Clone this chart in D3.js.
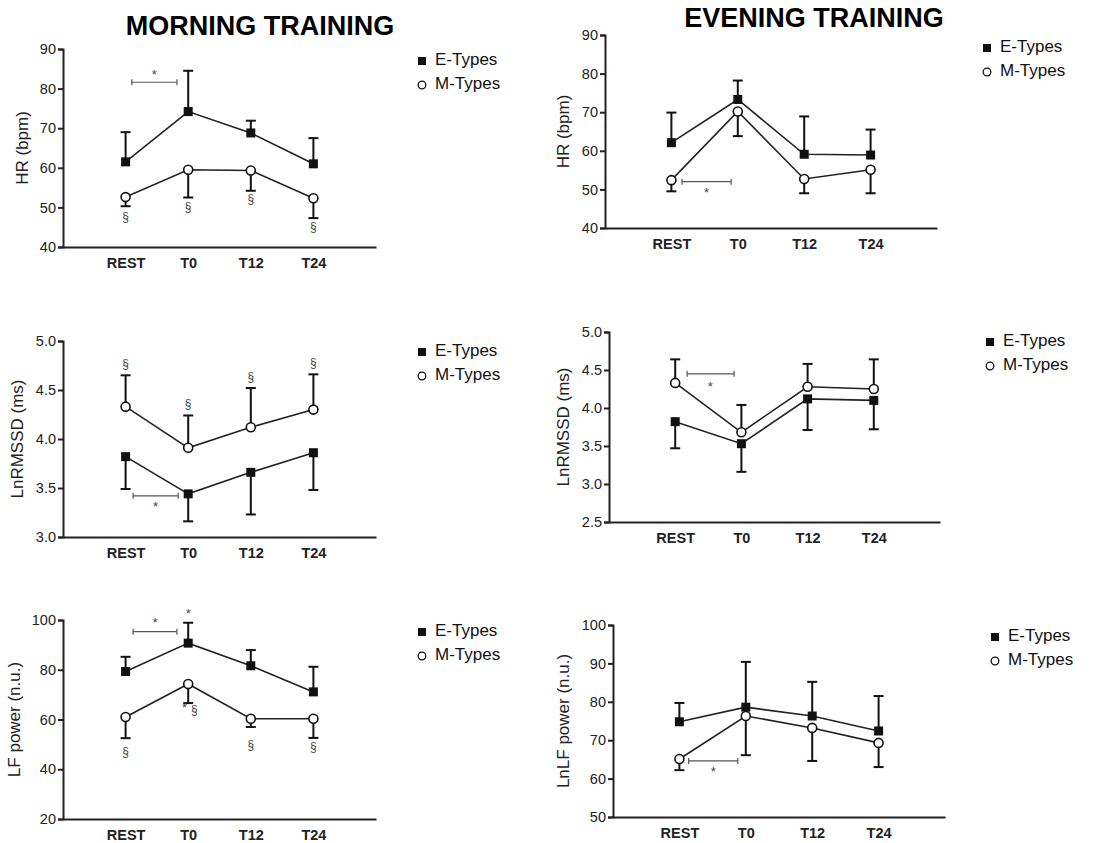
<!DOCTYPE html>
<html>
<head>
<meta charset="utf-8">
<script src="https://cdn.jsdelivr.net/npm/d3@7"></script>
<style>
  body { margin: 0; background: #fff; }
  svg { font-family: "Liberation Sans", Arial, Helvetica, sans-serif; }
  .axis path, .axis line { stroke: #222; stroke-width: 2; }
  .axis text { fill: #222; font-size: 14.5px; }
</style>
</head>
<body>
<script>
// categories and ticks
var categories = ["REST", "T0", "T12", "T24"];
var hrTicks = [40, 50, 60, 70, 80, 90];
var mornRmssdTicks = ["3.0", "3.5", "4.0", "4.5", "5.0"];
var evenRmssdTicks = ["2.5", "3.0", "3.5", "4.0", "4.5", "5.0"];
var mornLfTicks = [20, 40, 60, 80, 100];
var evenLfTicks = [50, 60, 70, 80, 90, 100];

// morning HR
var mornHrE = [61.5, 74.2, 68.8, 61.0];
var mornHrEErr = [69.0, 84.5, 71.9, 67.5];
var mornHrM = [52.6, 59.5, 59.3, 52.3];
var mornHrMErr = [50.3, 52.5, 54.2, 47.3];
// evening HR
var evenHrE = [62.1, 73.3, 59.1, 58.9];
var evenHrEErr = [69.9, 78.2, 68.9, 65.5];
var evenHrM = [52.4, 70.2, 52.7, 55.1];
var evenHrMErr = [49.5, 63.8, 49.0, 49.0];
// morning LnRMSSD
var mornRmE = [3.82, 3.44, 3.66, 3.86];
var mornRmEErr = [3.49, 3.16, 3.23, 3.48];
var mornRmM = [4.33, 3.91, 4.12, 4.30];
var mornRmMErr = [4.65, 4.24, 4.52, 4.66];
// evening LnRMSSD
var evenRmE = [3.82, 3.53, 4.12, 4.10];
var evenRmEErr = [3.47, 3.16, 3.71, 3.72];
var evenRmM = [4.33, 3.68, 4.28, 4.25];
var evenRmMErr = [4.64, 4.04, 4.58, 4.64];
// morning LF power
var mornLfE = [79.3, 90.7, 81.6, 71.1];
var mornLfEErr = [85.2, 98.9, 87.9, 81.2];
var mornLfM = [61.0, 74.3, 60.3, 60.3];
var mornLfMErr = [52.5, 66.6, 57.0, 52.6];
// evening LnLF power
var evenLfE = [74.8, 78.6, 76.3, 72.4];
var evenLfEErr = [79.7, 90.4, 85.2, 81.5];
var evenLfM = [65.1, 76.3, 73.2, 69.3];
var evenLfMErr = [62.2, 66.1, 64.6, 63.0];

// significance marks: [category position, value, text]
var mornHrMarks = [[1, 47.3, "§"], [2, 50.0, "§"], [3, 52.0, "§"], [4, 44.8, "§"], [1.46, 83.2, "*"]];
var evenHrMarks = [[1.53, 48.8, "*"]];
var mornRmMarks = [[1, 4.76, "§"], [2, 4.35, "§"], [3, 4.62, "§"], [4, 4.77, "§"], [1.48, 3.30, "*"]];
var evenRmMarks = [[1.53, 4.27, "*"]];
var mornLfMarks = [[1, 46.5, "§"], [2.1, 63.5, "§"], [1.94, 64.3, "*"], [3, 49.5, "§"], [4, 48.5, "§"], [1.47, 98.5, "*"], [2, 102, "*"]];
var evenLfMarks = [[1.51, 61.5, "*"]];

// brackets: [from, to, value]
var mornHrBracket = [1.10, 1.82, 81.6];
var evenHrBracket = [1.16, 1.90, 52.0];
var mornRmBracket = [1.12, 1.84, 3.42];
var evenRmBracket = [1.18, 1.89, 4.45];
var mornLfBracket = [1.12, 1.82, 95.3];
var evenLfBracket = [1.14, 1.88, 64.6];

var svg = d3.select("body").append("svg")
    .attr("width", 1114)
    .attr("height", 843);

svg.append("text")
    .attr("x", 260).attr("y", 35)
    .attr("text-anchor", "middle")
    .attr("font-size", 27).attr("font-weight", "bold")
    .text("MORNING TRAINING");
svg.append("text")
    .attr("x", 814).attr("y", 27)
    .attr("text-anchor", "middle")
    .attr("font-size", 27).attr("font-weight", "bold")
    .text("EVENING TRAINING");

var panels = [
  {x0: 63, x1: 376, yTop: 49, yBot: 247, dom: [40, 90], ticks: hrTicks, label: "HR (bpm)", labelX: 24,
   e: mornHrE, eErr: mornHrEErr, m: mornHrM, mErr: mornHrMErr, marks: mornHrMarks, bracket: mornHrBracket,
   legX: 422, legY: 61},
  {x0: 605, x1: 937, yTop: 35, yBot: 228, dom: [40, 90], ticks: hrTicks, label: "HR (bpm)", labelX: 565,
   e: evenHrE, eErr: evenHrEErr, m: evenHrM, mErr: evenHrMErr, marks: evenHrMarks, bracket: evenHrBracket,
   legX: 987, legY: 48},
  {x0: 63, x1: 376, yTop: 341, yBot: 537, dom: [3, 5], ticks: mornRmssdTicks, label: "LnRMSSD (ms)", labelX: 19,
   e: mornRmE, eErr: mornRmEErr, m: mornRmM, mErr: mornRmMErr, marks: mornRmMarks, bracket: mornRmBracket,
   legX: 422, legY: 352},
  {x0: 609, x1: 940, yTop: 332, yBot: 522, dom: [2.5, 5], ticks: evenRmssdTicks, label: "LnRMSSD (ms)", labelX: 565,
   e: evenRmE, eErr: evenRmEErr, m: evenRmM, mErr: evenRmMErr, marks: evenRmMarks, bracket: evenRmBracket,
   legX: 990, legY: 342},
  {x0: 63, x1: 376, yTop: 620, yBot: 819, dom: [20, 100], ticks: mornLfTicks, label: "LF power (n.u.)", labelX: 16,
   e: mornLfE, eErr: mornLfEErr, m: mornLfM, mErr: mornLfMErr, marks: mornLfMarks, bracket: mornLfBracket,
   legX: 422, legY: 632},
  {x0: 613, x1: 945, yTop: 625, yBot: 817, dom: [50, 100], ticks: evenLfTicks, label: "LnLF power (n.u.)", labelX: 565,
   e: evenLfE, eErr: evenLfEErr, m: evenLfM, mErr: evenLfMErr, marks: evenLfMarks, bracket: evenLfBracket,
   legX: 995, legY: 637}
];

panels.forEach(function(p) {
  var x = d3.scaleLinear().domain([0, 5]).range([p.x0, p.x1]);
  var y = d3.scaleLinear().domain(p.dom).range([p.yBot, p.yTop]);
  var g = svg.append("g");

  // axes
  g.append("g")
      .attr("class", "axis")
      .attr("transform", "translate(" + p.x0 + ",0)")
      .call(d3.axisLeft(y).tickValues(p.ticks.map(Number)).tickSizeOuter(0).tickSize(5).tickPadding(2)
        .tickFormat(function(d, i) { return p.ticks[i]; }));
  g.append("g")
      .attr("class", "axis")
      .attr("transform", "translate(0," + p.yBot + ")")
      .call(d3.axisBottom(x).tickValues([1, 2, 3, 4]).tickSize(0).tickSizeOuter(0).tickPadding(11)
        .tickFormat(function(d) { return categories[d - 1]; }))
      .selectAll("text").attr("font-size", 16).attr("font-weight", "bold").attr("fill", "#222");

  g.append("text")
      .attr("transform", "translate(" + p.labelX + "," + ((p.yTop + p.yBot) / 2) + ") rotate(-90)")
      .attr("text-anchor", "middle")
      .attr("dominant-baseline", "middle")
      .attr("font-size", 17).attr("fill", "#222")
      .text(p.label);

  // error bars
  function errBars(vals, errs) {
    vals.forEach(function(v, i) {
      var cx = x(i + 1);
      g.append("line").attr("x1", cx).attr("x2", cx).attr("y1", y(v)).attr("y2", y(errs[i]))
          .attr("stroke", "#111").attr("stroke-width", 2);
      g.append("line").attr("x1", cx - 5).attr("x2", cx + 5).attr("y1", y(errs[i])).attr("y2", y(errs[i]))
          .attr("stroke", "#111").attr("stroke-width", 2);
    });
  }
  errBars(p.e, p.eErr);
  errBars(p.m, p.mErr);

  var line = d3.line().x(function(d, i) { return x(i + 1); }).y(function(d) { return y(d); });
  g.append("path").datum(p.e).attr("d", line).attr("fill", "none").attr("stroke", "#222").attr("stroke-width", 1.6);
  g.append("path").datum(p.m).attr("d", line).attr("fill", "none").attr("stroke", "#222").attr("stroke-width", 1.6);

  g.selectAll(".sq").data(p.e).enter().append("rect")
      .attr("x", function(d, i) { return x(i + 1) - 4.5; })
      .attr("y", function(d) { return y(d) - 4.5; })
      .attr("width", 9).attr("height", 9).attr("fill", "#111");
  g.selectAll(".ci").data(p.m).enter().append("circle")
      .attr("cx", function(d, i) { return x(i + 1); })
      .attr("cy", function(d) { return y(d); })
      .attr("r", 4.5).attr("fill", "#fff").attr("stroke", "#111").attr("stroke-width", 1.6);

  // bracket
  var b = p.bracket;
  g.append("line").attr("x1", x(b[0])).attr("x2", x(b[1])).attr("y1", y(b[2])).attr("y2", y(b[2]))
      .attr("stroke", "#555").attr("stroke-width", 1.2);
  [b[0], b[1]].forEach(function(bx) {
    g.append("line").attr("x1", x(bx)).attr("x2", x(bx)).attr("y1", y(b[2]) - 3).attr("y2", y(b[2]) + 3)
        .attr("stroke", "#555").attr("stroke-width", 1.2);
  });

  g.selectAll(".mark").data(p.marks).enter().append("text")
      .attr("x", function(d) { return x(d[0]); })
      .attr("y", function(d) { return y(d[1]); })
      .attr("text-anchor", "middle")
      .attr("dominant-baseline", "middle")
      .attr("font-size", function(d) { return d[2] === "§" ? 12 : 13; })
      .attr("fill", "#444")
      .text(function(d) { return d[2]; });

  // legend
  g.append("rect").attr("x", p.legX - 4).attr("y", p.legY - 4).attr("width", 8).attr("height", 8).attr("fill", "#111");
  g.append("circle").attr("cx", p.legX).attr("cy", p.legY + 24).attr("r", 3.8)
      .attr("fill", "#fff").attr("stroke", "#111").attr("stroke-width", 1.3);
  g.append("text").attr("x", p.legX + 13).attr("y", p.legY).attr("dominant-baseline", "middle")
      .attr("font-size", 17).attr("fill", "#111").text("E-Types");
  g.append("text").attr("x", p.legX + 13).attr("y", p.legY + 24).attr("dominant-baseline", "middle")
      .attr("font-size", 17).attr("fill", "#111").text("M-Types");
});
</script>
</body>
</html>
